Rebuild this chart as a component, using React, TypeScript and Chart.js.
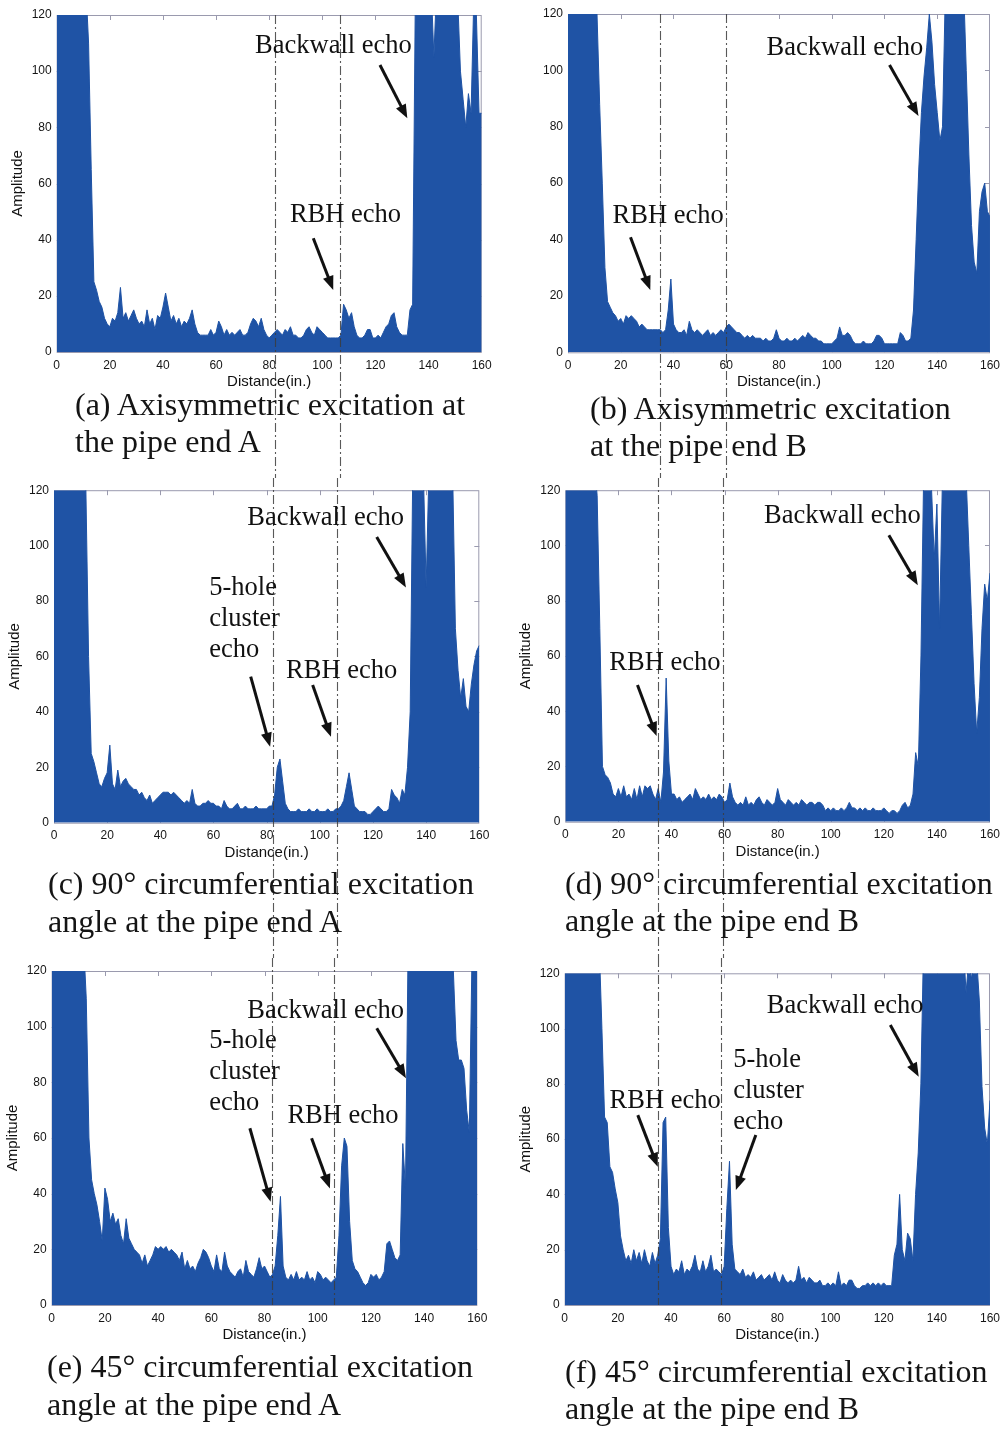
import React, { useEffect, useRef } from "react";
import { Chart, registerables } from "chart.js";

Chart.register(...registerables);

// ---------------- data (amplitude per inch of distance, 0..160 in.) ----------------
const X_TICKS = [0, 20, 40, 60, 80, 100, 120, 140, 160];
const Y_TICKS = [0, 20, 40, 60, 80, 100, 120];

const AMP_A = [
  130, 130, 130, 130, 130, 130, 130, 130, 130, 130,
  130, 130, 110, 65, 25, 22, 18, 16, 12, 10,
  9, 12, 11, 14, 23, 12, 14, 11, 13, 15,
  12, 10, 11, 9, 15, 10, 12, 8, 13, 12,
  16, 21, 16, 11, 13, 10, 12, 9, 11, 10,
  12, 15, 10, 7, 6, 6, 6, 6, 8, 6,
  7, 11, 9, 6, 8, 6, 7, 6, 7, 8,
  6, 6, 7, 10, 12, 11, 9, 12, 8, 6,
  5, 6, 7, 8, 7, 6, 8, 7, 9, 6,
  6, 5, 5, 6, 8, 9, 7, 6, 9, 8,
  7, 6, 5, 5, 5, 5, 5, 6, 17, 15,
  12, 14, 9, 6, 5, 5, 6, 8, 8, 5,
  5, 6, 5, 7, 9, 10, 13, 14, 9, 7,
  6, 6, 6, 15, 17, 125, 130, 130, 125, 130,
  120, 130, 105, 130, 130, 130, 130, 130, 130, 130,
  130, 125, 100, 90, 80, 92, 85, 125, 120, 85,
  85,
];

const AMP_B = [
  130, 130, 130, 130, 130, 130, 130, 130, 130, 130,
  130, 120, 88, 60, 30, 18, 16, 14, 13, 11,
  12, 10, 13, 12, 13, 12, 11, 9, 10, 9,
  8, 8, 8, 8, 8, 8, 7, 8, 15, 26,
  10, 8, 7, 7, 8, 6, 11, 8, 7, 8,
  7, 6, 7, 8, 6, 7, 6, 7, 8, 7,
  9, 10, 9, 8, 7, 7, 6, 5, 6, 5,
  6, 5, 5, 5, 4, 5, 4, 4, 5, 8,
  5, 4, 4, 5, 4, 4, 5, 4, 5, 6,
  5, 7, 6, 5, 5, 4, 4, 3, 3, 3,
  3, 4, 5, 9, 6, 6, 7, 6, 4, 3,
  3, 3, 4, 3, 3, 3, 4, 6, 6, 5,
  3, 3, 3, 3, 3, 3, 7, 6, 4, 4,
  5, 15, 40, 65, 85, 98, 108, 120, 110, 95,
  85, 75, 80, 125, 130, 130, 130, 130, 130, 130,
  130, 100, 70, 45, 32, 28, 50, 57, 60, 50,
  48,
];

const AMP_C = [
  130, 130, 130, 130, 130, 130, 130, 130, 130, 130,
  130, 130, 120, 60, 25, 22, 18, 14, 13, 16,
  18, 28, 14, 12, 19, 13, 15, 16, 14, 13,
  12, 12, 10, 11, 9, 8, 10, 7, 8, 9,
  10, 11, 11, 11, 10, 11, 10, 9, 8, 7,
  8, 7, 12, 7, 6, 6, 7, 7, 8, 7,
  7, 6, 6, 5, 8, 6, 5, 5, 6, 7,
  5, 5, 6, 5, 5, 5, 6, 5, 5, 5,
  5, 6, 6, 10, 20, 23, 15, 7, 5, 4,
  4, 4, 5, 4, 4, 4, 5, 4, 4, 5,
  4, 4, 4, 5, 4, 4, 5, 5, 6, 8,
  13, 18, 12, 6, 5, 4, 4, 4, 3, 3,
  4, 5, 6, 5, 4, 4, 5, 12, 10, 9,
  7, 12, 10, 20, 40, 130, 130, 130, 130, 125,
  85, 125, 130, 130, 130, 130, 130, 130, 130, 130,
  125, 70, 55, 45, 52, 42, 40, 50, 57, 62,
  64,
];

const AMP_D = [
  130, 130, 130, 130, 130, 130, 130, 130, 130, 130,
  130, 130, 118, 70, 20, 17, 16, 14, 10, 9,
  12, 9, 13, 9, 10, 8, 12, 8, 13, 9,
  13, 12, 13, 10, 8, 12, 7, 18, 52, 22,
  10, 10, 8, 9, 7, 8, 9, 10, 8, 12,
  10, 8, 9, 8, 10, 8, 9, 8, 10, 9,
  7, 8, 14, 9, 7, 6, 7, 6, 9, 6,
  7, 6, 8, 9, 7, 6, 8, 7, 6, 7,
  12, 8, 7, 6, 8, 7, 6, 7, 6, 8,
  7, 6, 7, 7, 6, 7, 7, 6, 4, 5,
  4, 5, 4, 4, 5, 4, 5, 7, 5, 5,
  4, 5, 4, 5, 4, 4, 5, 4, 4, 4,
  5, 4, 3, 4, 4, 3, 4, 6, 7, 5,
  6, 10, 25, 20, 60, 125, 130, 130, 120, 95,
  115, 70, 120, 130, 130, 130, 130, 130, 130, 130,
  130, 125, 100, 75, 50, 32, 45, 70, 86, 80,
  90,
];

const AMP_E = [
  130, 130, 130, 130, 130, 130, 130, 130, 130, 130,
  130, 130, 130, 110, 60, 45, 40, 36, 30, 23,
  42, 38, 30, 33, 29, 31, 25, 22, 31, 24,
  22, 20, 19, 18, 15, 18, 14, 16, 18, 21,
  20, 21, 20, 21, 19, 20, 19, 18, 16, 19,
  13, 16, 13, 14, 12, 15, 17, 20, 19, 17,
  14, 12, 18, 13, 12, 19, 14, 12, 11, 10,
  12, 13, 10, 16, 12, 11, 10, 13, 17, 13,
  14, 12, 10, 11, 14, 25, 39, 14, 10, 9,
  11, 9, 12, 9, 10, 9, 12, 9, 10, 8,
  12, 11, 9, 10, 9, 8, 9, 10, 25, 50,
  60, 57, 30, 16, 13, 12, 10, 8, 7, 8,
  11, 10, 11, 9, 10, 12, 22, 23, 20, 17,
  16, 18, 58, 42, 130, 130, 130, 130, 130, 130,
  130, 130, 130, 130, 130, 130, 130, 130, 130, 130,
  130, 120, 95, 88, 88, 85, 70, 62, 125, 125,
  125,
];

const AMP_F = [
  130, 130, 130, 130, 130, 130, 130, 130, 130, 130,
  130, 130, 130, 130, 100, 68, 66, 50, 48, 42,
  37, 25, 20, 16, 18, 15, 20, 16, 19, 15,
  20, 16, 14, 19, 15, 18, 24, 66, 68, 28,
  14, 11, 13, 12, 16, 11, 13, 12, 14, 18,
  13, 12, 16, 12, 14, 18, 12, 13, 12, 11,
  14, 35, 52, 22, 13, 12, 11, 13, 10, 11,
  10, 12, 9, 10, 11, 9, 10, 11, 9, 12,
  9, 8, 11, 9, 8, 9, 8, 9, 14, 9,
  10, 8, 10, 9, 8, 8, 9, 7, 7, 8,
  7, 8, 7, 12, 7, 8, 7, 9, 9, 7,
  6, 6, 7, 7, 8, 7, 8, 7, 8, 7,
  8, 7, 7, 7, 18, 22, 40, 20, 16, 26,
  24, 16, 40, 55, 80, 130, 130, 130, 130, 130,
  130, 130, 130, 130, 130, 130, 130, 130, 130, 130,
  130, 113, 125, 118, 125, 125, 110, 79, 64, 58,
  74,
];

// dash-dot reference lines (distance, in.)
const MARKERS_A = [82.3, 106.6];
const MARKERS_B = [35.0, 59.8];
const MARKERS_C = [82.5, 106.6];
const MARKERS_D = [35.1, 59.4];
const MARKERS_E = [82.7, 106.3];
const MARKERS_F = [35.0, 58.9];

type Note = { lines: string[]; x: number; y: number };
type Arrow = { x1: number; y1: number; x2: number; y2: number };

const NOTES_A: Note[] = [
  { lines: ["Backwall echo"], x: 74.7, y: 106.4 },
  { lines: ["RBH echo"], x: 87.8, y: 46.4 },
];
const ARROWS_A: Arrow[] = [
  { x1: 121.7, y1: 102.2, x2: 132, y2: 83.2 },
  { x1: 96.6, y1: 40.5, x2: 104.1, y2: 22.1 },
];
const NOTES_B: Note[] = [
  { lines: ["Backwall echo"], x: 75.3, y: 105.5 },
  { lines: ["RBH echo"], x: 16.9, y: 46 },
];
const ARROWS_B: Arrow[] = [
  { x1: 121.9, y1: 101.9, x2: 132.9, y2: 83.8 },
  { x1: 23.7, y1: 40.8, x2: 31.2, y2: 22.1 },
];
const NOTES_C: Note[] = [
  { lines: ["Backwall echo"], x: 72.7, y: 107.4 },
  { lines: ["5-hole", "cluster", "echo"], x: 58.4, y: 82.1 },
  { lines: ["RBH echo"], x: 87.3, y: 52.1 },
];
const ARROWS_C: Arrow[] = [
  { x1: 121.4, y1: 103.1, x2: 132.4, y2: 84.9 },
  { x1: 74, y1: 52.7, x2: 81.3, y2: 27.4 },
  { x1: 97.3, y1: 49.7, x2: 104.2, y2: 31 },
];
const NOTES_D: Note[] = [
  { lines: ["Backwall echo"], x: 74.9, y: 108.2 },
  { lines: ["RBH echo"], x: 16.6, y: 54.9 },
];
const ARROWS_D: Arrow[] = [
  { x1: 121.9, y1: 103.7, x2: 132.8, y2: 85.6 },
  { x1: 27.2, y1: 49.5, x2: 34.4, y2: 31 },
];
const NOTES_E: Note[] = [
  { lines: ["Backwall echo"], x: 73.5, y: 103 },
  { lines: ["5-hole", "cluster", "echo"], x: 59.2, y: 92.2 },
  { lines: ["RBH echo"], x: 88.6, y: 65.3 },
];
const ARROWS_E: Arrow[] = [
  { x1: 122.2, y1: 99.4, x2: 133.2, y2: 81.5 },
  { x1: 74.5, y1: 63.5, x2: 82.3, y2: 37.1 },
  { x1: 97.7, y1: 59.9, x2: 104.6, y2: 41.9 },
];
const NOTES_F: Note[] = [
  { lines: ["Backwall echo"], x: 76, y: 105.8 },
  { lines: ["RBH echo"], x: 16.9, y: 71.2 },
  { lines: ["5-hole", "cluster", "echo"], x: 63.4, y: 86.2 },
];
const ARROWS_F: Arrow[] = [
  { x1: 122.5, y1: 101.3, x2: 133.2, y2: 82.6 },
  { x1: 27.5, y1: 68.7, x2: 35, y2: 50 },
  { x1: 71.9, y1: 61.5, x2: 64.4, y2: 41.6 },
];

const CAPTION_A = ["(a) Axisymmetric excitation at", "the pipe end A"];
const CAPTION_B = ["(b) Axisymmetric excitation", "at the pipe end B"];
const CAPTION_C = ["(c) 90° circumferential excitation", "angle at the pipe end A"];
const CAPTION_D = ["(d) 90° circumferential excitation", "angle at the pipe end B"];
const CAPTION_E = ["(e) 45° circumferential excitation", "angle at the pipe end A"];
const CAPTION_F = ["(f) 45° circumferential excitation", "angle at the pipe end B"];

const X_TITLE = "Distance(in.)";
const Y_TITLE = "Amplitude";

// ---------------- layout & style ----------------
const BLUE = "#1f53a5";
const SANS = "'Liberation Sans', Arial, sans-serif";
const SERIF = "'Liberation Serif', 'Times New Roman', serif";
const Y_W = 45;
const X_H = 40;

type Layout = {
  cx: number; cy: number; w: number; h: number; row: number;
  l: number; t: number; r: number; b: number;
  capX: number; capY: number; capLH: number;
};

const LAYOUT: Layout[] = [
  { cx: 0, cy: 0, w: 503, h: 478, row: 0, l: 56.7, t: 15, r: 481.7, b: 352, capX: 75, capY: 386, capLH: 37 },
  { cx: 503, cy: 0, w: 503, h: 478, row: 0, l: 568, t: 14, r: 994.7, b: 352.3, capX: 590, capY: 390, capLH: 37 },
  { cx: 0, cy: 478, w: 503, h: 480, row: 1, l: 54, t: 490, r: 479.3, b: 822.7, capX: 48, capY: 864, capLH: 38 },
  { cx: 503, cy: 478, w: 503, h: 480, row: 1, l: 565.3, t: 490, r: 992.3, b: 821.7, capX: 565, capY: 865, capLH: 37 },
  { cx: 0, cy: 958, w: 503, h: 472, row: 2, l: 51.7, t: 971, r: 477.3, b: 1305, capX: 47, capY: 1347, capLH: 38 },
  { cx: 503, cy: 958, w: 503, h: 472, row: 2, l: 564.7, t: 973.3, r: 991.3, b: 1305, capX: 565, capY: 1353, capLH: 37 },
];

type Panel = {
  key: string; amp: number[]; markers: number[]; notes: Note[]; arrows: Arrow[];
  caption: string[]; yTitle: boolean;
};

const PANELS: Panel[] = [
  { key: "a", amp: AMP_A, markers: MARKERS_A, notes: NOTES_A, arrows: ARROWS_A, caption: CAPTION_A, yTitle: true },
  { key: "b", amp: AMP_B, markers: MARKERS_B, notes: NOTES_B, arrows: ARROWS_B, caption: CAPTION_B, yTitle: false },
  { key: "c", amp: AMP_C, markers: MARKERS_C, notes: NOTES_C, arrows: ARROWS_C, caption: CAPTION_C, yTitle: true },
  { key: "d", amp: AMP_D, markers: MARKERS_D, notes: NOTES_D, arrows: ARROWS_D, caption: CAPTION_D, yTitle: true },
  { key: "e", amp: AMP_E, markers: MARKERS_E, notes: NOTES_E, arrows: ARROWS_E, caption: CAPTION_E, yTitle: true },
  { key: "f", amp: AMP_F, markers: MARKERS_F, notes: NOTES_F, arrows: ARROWS_F, caption: CAPTION_F, yTitle: true },
];

function drawArrow(ctx: CanvasRenderingContext2D, x1: number, y1: number, x2: number, y2: number) {
  const ang = Math.atan2(y2 - y1, x2 - x1);
  const headL = 14;
  const headW = 5.5;
  const bx = x2 - Math.cos(ang) * headL;
  const by = y2 - Math.sin(ang) * headL;
  ctx.beginPath();
  ctx.moveTo(x1, y1);
  ctx.lineTo(bx + Math.cos(ang) * 2, by + Math.sin(ang) * 2);
  ctx.lineWidth = 3;
  ctx.strokeStyle = "#111";
  ctx.stroke();
  ctx.beginPath();
  ctx.moveTo(x2, y2);
  ctx.lineTo(bx + Math.cos(ang + Math.PI / 2) * headW, by + Math.sin(ang + Math.PI / 2) * headW);
  ctx.lineTo(bx + Math.cos(ang - Math.PI / 2) * headW, by + Math.sin(ang - Math.PI / 2) * headW);
  ctx.closePath();
  ctx.fillStyle = "#111";
  ctx.fill();
}

function makeOverlay(p: Panel, L: Layout) {
  return {
    id: "overlay_" + p.key,
    beforeDatasetsDraw(chart: any) {
      const { ctx, chartArea: a, scales } = chart;
      const xs = scales.x;
      const ys = scales.y;
      ctx.save();
      ctx.strokeStyle = "#9a9aae";
      ctx.lineWidth = 1;
      ctx.strokeRect(a.left + 0.5, a.top + 0.5, a.right - a.left - 1, a.bottom - a.top);
      ctx.beginPath();
      for (const v of X_TICKS) {
        if (v === X_TICKS[0] || v === X_TICKS[X_TICKS.length - 1]) continue;
        const px = Math.round(xs.getPixelForValue(v)) + 0.5;
        ctx.moveTo(px, a.top);
        ctx.lineTo(px, a.top + 5);
        ctx.moveTo(px, a.bottom);
        ctx.lineTo(px, a.bottom - 5);
      }
      for (const v of Y_TICKS) {
        if (v === Y_TICKS[0] || v === Y_TICKS[Y_TICKS.length - 1]) continue;
        const py = Math.round(ys.getPixelForValue(v)) + 0.5;
        ctx.moveTo(a.left, py);
        ctx.lineTo(a.left + 5, py);
        ctx.moveTo(a.right, py);
        ctx.lineTo(a.right - 5, py);
      }
      ctx.stroke();
      ctx.restore();
    },
    afterDatasetsDraw(chart: any) {
      const { ctx, chartArea: a, scales } = chart;
      const xs = scales.x;
      const ys = scales.y;
      ctx.save();
      // dash-dot reference lines
      const y0 = L.row === 0 ? a.top : 0;
      const y1 = L.row === 2 ? a.bottom : chart.height;
      ctx.setLineDash([9, 3, 2, 3]);
      ctx.lineWidth = 1.1;
      ctx.strokeStyle = "rgba(60,60,60,0.85)";
      for (const m of p.markers) {
        const px = Math.round(xs.getPixelForValue(m)) + 0.5;
        ctx.beginPath();
        ctx.moveTo(px, y0);
        ctx.lineTo(px, y1);
        ctx.stroke();
      }
      ctx.setLineDash([]);
      // annotations
      ctx.fillStyle = "#111";
      ctx.font = `26.5px ${SERIF}`;
      ctx.textAlign = "left";
      ctx.textBaseline = "alphabetic";
      for (const n of p.notes) {
        const px = xs.getPixelForValue(n.x);
        const py = ys.getPixelForValue(n.y);
        n.lines.forEach((ln, i) => ctx.fillText(ln, px, py + i * 31));
      }
      for (const ar of p.arrows) {
        drawArrow(
          ctx,
          xs.getPixelForValue(ar.x1), ys.getPixelForValue(ar.y1),
          xs.getPixelForValue(ar.x2), ys.getPixelForValue(ar.y2)
        );
      }
      // axis titles
      ctx.fillStyle = "#111";
      ctx.font = `15px ${SANS}`;
      ctx.textAlign = "center";
      ctx.textBaseline = "middle";
      ctx.fillText(X_TITLE, (a.left + a.right) / 2, a.bottom + 30);
      if (p.yTitle) {
        ctx.translate(a.left - 39, (a.top + a.bottom) / 2);
        ctx.rotate(-Math.PI / 2);
        ctx.fillText(Y_TITLE, 0, 0);
      }
      ctx.restore();
    },
  };
}

export default function App() {
  const refs = useRef<(HTMLCanvasElement | null)[]>([]);

  useEffect(() => {
    document.body.style.margin = "0";
    const charts = PANELS.map((p, i) => {
      const L = LAYOUT[i];
      const canvas = refs.current[i] as HTMLCanvasElement;
      return new Chart(canvas, {
        type: "line",
        data: {
          datasets: [
            {
              data: p.amp.map((y, x) => ({ x, y })),
              fill: "origin",
              backgroundColor: BLUE,
              borderColor: BLUE,
              borderWidth: 1,
              pointRadius: 0,
              tension: 0,
            } as any,
          ],
        },
        options: {
          animation: false,
          responsive: false,
          devicePixelRatio: 1,
          events: [],
          layout: {
            padding: {
              left: L.l - L.cx - Y_W,
              top: L.t - L.cy,
              right: L.cx + L.w - L.r,
              bottom: L.cy + L.h - L.b - X_H,
            },
          },
          plugins: { legend: { display: false }, tooltip: { enabled: false }, title: { display: false } },
          scales: {
            x: {
              type: "linear",
              min: X_TICKS[0],
              max: X_TICKS[X_TICKS.length - 1],
              grid: { display: false, drawTicks: false },
              border: { display: false },
              afterBuildTicks: (s: any) => {
                s.ticks = X_TICKS.map((v) => ({ value: v }));
              },
              afterFit: (s: any) => {
                s.height = X_H;
              },
              ticks: {
                padding: 6,
                maxRotation: 0,
                autoSkip: false,
                color: "#151515",
                font: { family: SANS, size: 12 },
              },
            },
            y: {
              type: "linear",
              min: Y_TICKS[0],
              max: Y_TICKS[Y_TICKS.length - 1],
              grid: { display: false, drawTicks: false },
              border: { display: false },
              afterBuildTicks: (s: any) => {
                s.ticks = Y_TICKS.map((v) => ({ value: v }));
              },
              afterFit: (s: any) => {
                s.width = Y_W;
              },
              ticks: {
                padding: 5,
                color: "#151515",
                font: { family: SANS, size: 12 },
              },
            },
          },
        },
        plugins: [makeOverlay(p, L)],
      });
    });
    return () => charts.forEach((c) => c.destroy());
  }, []);

  return (
    <div style={{ position: "absolute", left: 0, top: 0, width: 1006, height: 1430, background: "#fff", overflow: "hidden" }}>
      {PANELS.map((p, i) => {
        const L = LAYOUT[i];
        return (
          <canvas
            key={p.key}
            ref={(el) => {
              refs.current[i] = el;
            }}
            width={L.w}
            height={L.h}
            style={{ position: "absolute", left: L.cx, top: L.cy, width: L.w, height: L.h, display: "block" }}
          />
        );
      })}
      {PANELS.map((p, i) => {
        const L = LAYOUT[i];
        return (
          <div
            key={"cap" + p.key}
            style={{
              position: "absolute",
              left: L.capX,
              top: L.capY,
              fontFamily: SERIF,
              fontSize: 32,
              lineHeight: L.capLH + "px",
              whiteSpace: "nowrap",
              color: "#141414",
            }}
          >
            {p.caption.map((c, j) => (
              <div key={j}>{c}</div>
            ))}
          </div>
        );
      })}
    </div>
  );
}
